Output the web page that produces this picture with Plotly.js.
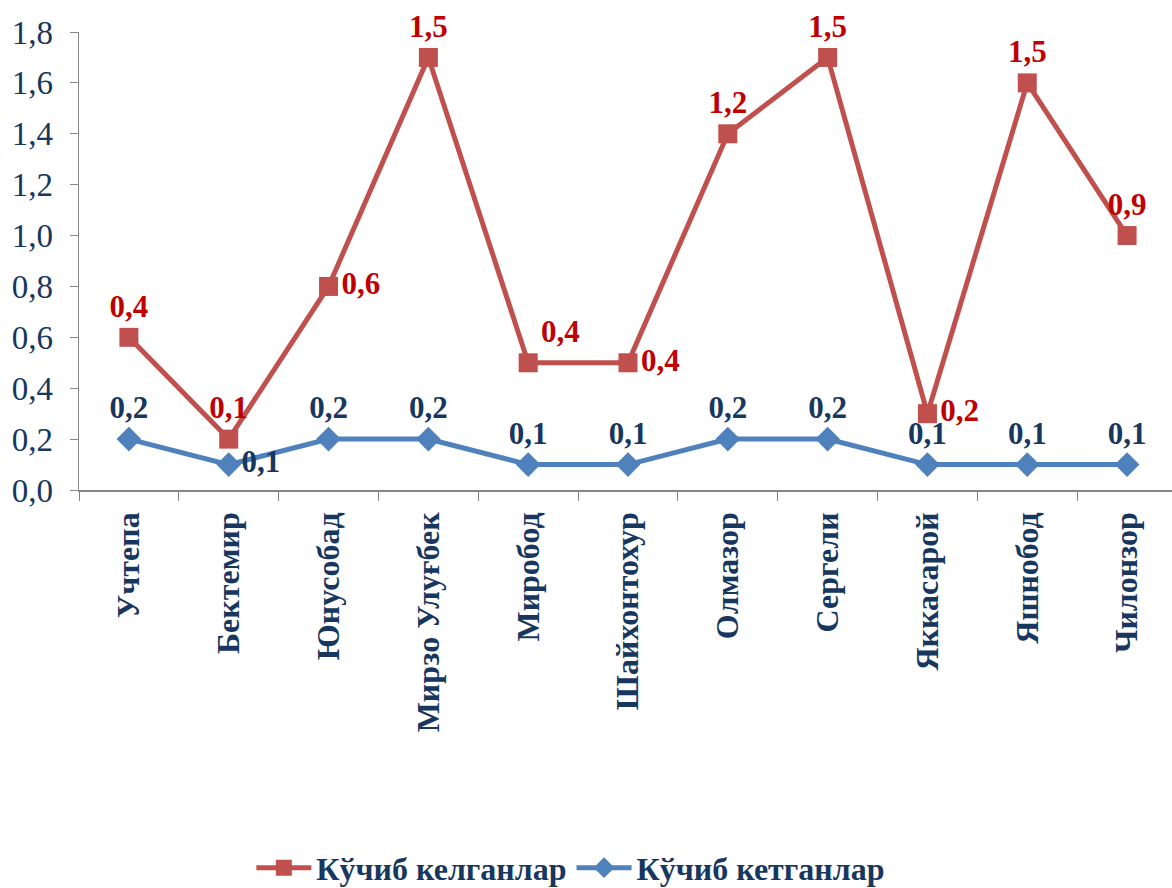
<!DOCTYPE html>
<html>
<head>
<meta charset="utf-8">
<script src="https://cdn.plot.ly/plotly-3.0.1.min.js"></script>
<style>html,body{margin:0;padding:0;background:#fff;}#chart{width:1172px;height:888px;}</style>
</head>
<body>
<div id="chart"></div>
<script>
const categories = ["Учтепа","Бектемир","Юнусобад","Мирзо Улуғбек","Миробод","Шайхонтохур","Олмазор","Сергели","Яккасарой","Яшнобод","Чилонзор"];
const seriesNames = ["Кўчиб келганлар","Кўчиб кетганлар"];
const arrived = [0.4,0.1,0.6,1.5,0.4,0.4,1.2,1.5,0.2,1.5,0.9];
const departed = [0.2,0.1,0.2,0.2,0.1,0.1,0.2,0.2,0.1,0.1,0.1];
const yTicks = [0,0.2,0.4,0.6,0.8,1.0,1.2,1.4,1.6,1.8];

const fmt = v => v.toFixed(1).replace('.', ',');
const serif = "'Liberation Serif','Times New Roman',serif";
const navy = "#17375E";

const blueTrace = {
  x: categories, y: departed, name: seriesNames[1],
  type: 'scatter', mode: 'lines+markers+text', stackgroup: 'one', fill: 'none',
  line: {color: '#4F81BD', width: 5},
  marker: {symbol: 'diamond', size: 19, color: '#4F81BD'},
  text: departed.map(fmt),
  textposition: ['top center','middle right','top center','top center','top center','top center','top center','top center','top center','top center','top center'],
  textfont: {family: serif, size: 31, color: navy, weight: 'bold'},
  cliponaxis: false, hoverinfo: 'x+text'
};
const redTrace = {
  x: categories, y: arrived, name: seriesNames[0],
  type: 'scatter', mode: 'lines+markers+text', stackgroup: 'one', fill: 'none',
  line: {color: '#C0504D', width: 5},
  marker: {symbol: 'square', size: 19, color: '#C0504D'},
  text: arrived.map(fmt),
  textposition: ['top center','top center','middle right','top center','top right','middle right','top center','top center','middle right','top center','top center'],
  textfont: {family: serif, size: 31, color: '#C00000', weight: 'bold'},
  cliponaxis: false, hoverinfo: 'x+text'
};

const layout = {
  width: 1172, height: 888,
  margin: {l: 79, r: 0, t: 32, b: 398, autoexpand: false},
  paper_bgcolor: '#fff', plot_bgcolor: '#fff',
  separators: ', ',
  showlegend: true,
  legend: {orientation: 'h', x: 0.45, xanchor: 'center', y: -0.825, yanchor: 'middle',
           traceorder: 'reversed', font: {family: serif, size: 32, color: navy, weight: 'bold'},
           itemwidth: 55},
  xaxis: {
    type: 'category', range: [-0.5, 10.45],
    showline: true, linecolor: '#868686', linewidth: 1.5,
    ticks: 'outside', tickson: 'boundaries', ticklen: 9, tickcolor: '#868686',
    tickangle: -90, showgrid: false, zeroline: false, ticklabelstandoff: 8,
    tickfont: {family: serif, size: 32, color: navy, weight: 'bold'}
  },
  yaxis: {
    range: [0, 1.8], tickvals: yTicks, ticktext: yTicks.map(fmt),
    showline: true, linecolor: '#868686', linewidth: 1.5,
    ticks: 'outside', ticklen: 8, tickcolor: '#868686',
    showgrid: false, zeroline: false, ticklabelstandoff: 10,
    tickfont: {family: serif, size: 33, color: navy}
  }
};

Plotly.newPlot('chart', [blueTrace, redTrace], layout, {displayModeBar: false, staticPlot: true});
</script>
</body>
</html>
